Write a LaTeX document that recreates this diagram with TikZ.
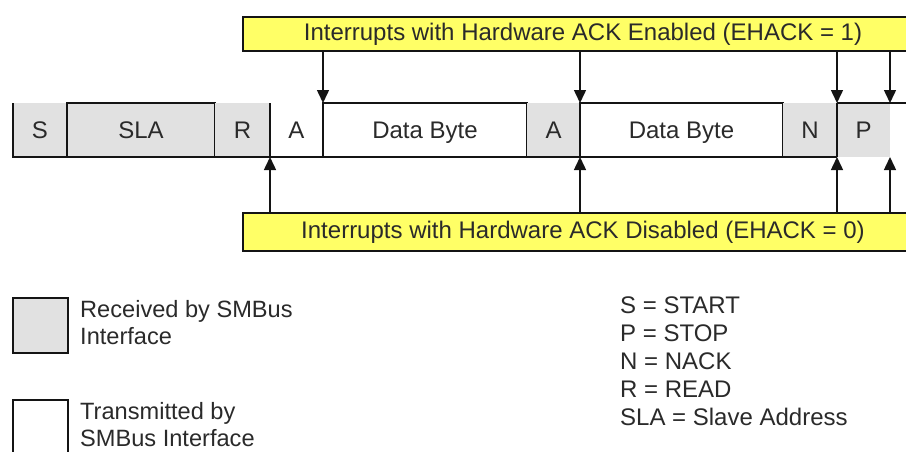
\documentclass[tikz,border=0pt]{standalone}
\usepackage{fontspec}
\setmainfont{Liberation Sans}
\usetikzlibrary{arrows.meta, positioning, calc}
\definecolor{rxgray}{HTML}{E1E1E1}
\definecolor{irqyellow}{HTML}{FFFF66}
\definecolor{inkline}{HTML}{141414}
\definecolor{inktext}{HTML}{2A2A2A}
\newcommand{\pktcell}[5]{%
  \node[cell, fill=#4, minimum width=#3pt, right=0pt of #2] (#1) {#5};}

\begin{document}
\begin{tikzpicture}[x=1pt, y=-1pt, font=\fontsize{24}{28}\selectfont,
    cell/.style={minimum height=54pt, inner sep=0pt, outer sep=0pt, text=inktext,
      text height=17pt, text depth=0pt},
    boxed/.style={draw=inkline, line width=1.6pt},
    rule/.style={inkline, line width=1.6pt},
    irq/.style={-{Triangle[length=13pt, width=12pt]}, inkline, line width=1.5pt},
    banner/.style={draw=inkline, line width=1.4pt, fill=irqyellow, minimum width=680pt,
      inner sep=0pt, outer sep=0pt, anchor=north west, text=inktext},
    legend/.style={align=left, inner sep=0pt, text=inktext}]
      \clip (0,0) rectangle (906,451);
      \coordinate (rim) at (906,103);
      % interrupt banners
      \node[banner, minimum height=34pt] (en) at (243,17)
        {Interrupts with Hardware ACK Enabled (EHACK = 1)};
      \node[banner, minimum height=38pt] (dis) at (243,213)
        {Interrupts with Hardware ACK Disabled (EHACK = 0)};
      % packet
      \node[cell, fill=rxgray, minimum width=54pt, anchor=west] (s) at (13,130) {S};
      \pktcell{sla}{s}{148}{rxgray, boxed}{SLA}
      \pktcell{r}{sla}{55}{rxgray}{R}
      \pktcell{a1}{r}{53}{white}{A}
      \pktcell{db1}{a1}{204}{white, boxed}{Data Byte}
      \pktcell{a2}{db1}{53}{rxgray}{A}
      \pktcell{db2}{a2}{203}{white, boxed}{Data Byte}
      \pktcell{n}{db2}{54}{rxgray}{N}
      \pktcell{p}{n}{53}{rxgray}{P}
      \draw[rule] (s.north west) -- (s.south west) -- (n.south east);
      \draw[rule] (a1.north west) -- (a1.south west);
      \draw[rule] (a2.north east) -- (a2.south east);
      \draw[rule] (n.north east) -- (n.south east);
      \draw[rule] (p.north west) -- (rim);
      % interrupt points
      \draw[irq] (en.south -| db1.north west) -- (db1.north west);
      \draw[irq] (en.south -| a2.north east) -- (a2.north east);
      \draw[irq] (en.south -| n.north east) -- (n.north east);
      \draw[irq] (en.south -| p.north east) -- (p.north east);
      \draw[irq] (dis.north -| a1.south west) -- (a1.south west);
      \draw[irq] (dis.north -| a2.south east) -- (a2.south east);
      \draw[irq] (dis.north -| n.south east) -- (n.south east);
      \draw[irq] (dis.north -| p.south east) -- (p.south east);
      % key
      \node[boxed, fill=rxgray, minimum size=55pt, outer sep=0pt, anchor=north west] (rxkey) at (13,298) {};
      \node[legend, font=\fontsize{23.6}{27}\selectfont, right=12pt of rxkey, yshift=3pt] (rxtext)
        {Received by SMBus\\Interface};
      \node[boxed, fill=white, minimum size=55pt, outer sep=0pt, anchor=north west] (txkey) at (13,400) {};
      \node[legend, font=\fontsize{23.6}{27}\selectfont, right=12pt of txkey, yshift=3pt] (txtext)
        {Transmitted by\\SMBus Interface};
      \node[legend, anchor=north west] (abbr) at (620,297)
        {S = START\\P = STOP\\N = NACK\\R = READ\\SLA = Slave Address};
    \end{tikzpicture}
\end{document}
